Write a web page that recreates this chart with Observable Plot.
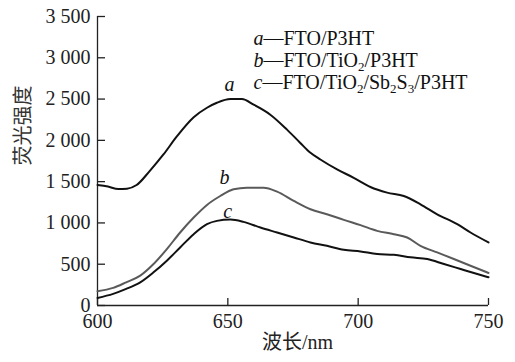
<!DOCTYPE html>
<html><head><meta charset="utf-8">
<script src="https://cdn.jsdelivr.net/npm/d3@7"></script>
<script src="https://cdn.jsdelivr.net/npm/@observablehq/plot@0.6"></script>
<style>
body{margin:0;background:#fff}
#chart svg, #chart svg text, #chart svg tspan {font-family: "Liberation Serif", "Times New Roman", Times, "DejaVu Serif", "Noto Sans CJK SC", serif !important;}
</style>
</head><body><div id="chart"></div>
<script>
// Series a — FTO/P3HT
const wavelengthA = [600, 604, 608, 611.3, 615, 620, 625.3, 630.5, 636.9, 642, 645.8, 651, 655.4, 659.9, 666.3, 672.7, 677.8, 681.7, 685.5, 691.9, 698.3, 704.7, 711.1, 717.5, 723.9, 730.3, 738, 743.1, 750];
const intensityA  = [1459, 1440, 1410, 1415, 1459, 1628, 1829, 2050, 2280, 2395, 2455, 2500, 2500, 2432, 2311, 2130, 1969, 1849, 1768, 1648, 1547, 1435, 1367, 1326, 1226, 1105, 985, 884, 764];
// Series b — FTO/TiO2/P3HT
const wavelengthB = [600, 606, 611, 616.4, 621.5, 626.6, 631.7, 636.9, 642, 647.1, 652.2, 657.3, 663.7, 668.9, 675.3, 681.7, 688, 694.5, 700.9, 707.3, 713.7, 718.8, 723.9, 730.3, 736.7, 743.1, 750];
const intensityB  = [173, 213, 281, 362, 502, 683, 884, 1065, 1218, 1326, 1407, 1427, 1427, 1379, 1266, 1166, 1105, 1037, 973, 904, 864, 824, 723, 643, 563, 482, 394];
// Series c — FTO/TiO2/Sb2S3/P3HT
const wavelengthC = [600, 606, 611, 616.4, 621.5, 626.6, 631.7, 636.9, 642, 645.8, 651, 656, 662.5, 668.9, 675.3, 681.7, 688, 694.5, 700.9, 707.3, 713.7, 720.1, 726.5, 732.9, 739.3, 745.7, 750];
const intensityC  = [92, 141, 201, 281, 402, 543, 703, 864, 985, 1025, 1041, 1013, 944, 884, 824, 764, 723, 675, 655, 623, 615, 583, 563, 502, 442, 382, 342];

const seriesKeys = ["a", "b", "c"];
const seriesNames = ["FTO/P3HT", "FTO/TiO_2/P3HT", "FTO/TiO_2/Sb_2S_3/P3HT"];
const seriesColors = ["#111111", "#5a5a5a", "#111111"];
const curveLabelX = [650.6, 648.7, 649.9];
const curveLabelY = [2670, 1550, 1140];

const xTicks = [600, 650, 700, 750];
const yTicks = [0, 500, 1000, 1500, 2000, 2500, 3000, 3500];
const xTitle = "波长/nm";
const yTitle = "荧光强度";

const rows = [];
[[wavelengthA, intensityA], [wavelengthB, intensityB], [wavelengthC, intensityC]].forEach(([xs, ys], i) => {
  xs.forEach((x, j) => rows.push({series: seriesKeys[i], x, y: ys[j]}));
});
const labels = seriesKeys.map((k, i) => ({k, x: curveLabelX[i], y: curveLabelY[i]}));
const legend = seriesKeys.map((k, i) => ({k, name: seriesNames[i], i}));

const W = 515, H = 362, mL = 97, mR = 27, mT = 16, mB = 57;
const fw = W - mL - mR, fh = H - mT - mB;
const axisColor = "#222";
const fmt = d => d3.format(",")(d).replace(",", " ");
const legendRowDy = [14.5, 36, 58];

const legendMarks = legend.map((d, i) =>
  Plot.text([d], {frameAnchor: "top-left", textAnchor: "start", dx: 156, dy: legendRowDy[i], text: e => "§" + e.k + "|" + e.name, fontSize: 20, fill: "#111"})
);

const chart = Plot.plot({
  width: W, height: H,
  marginLeft: mL, marginRight: mR, marginTop: mT, marginBottom: mB,
  style: {fontSize: "20px", color: axisColor, background: "#fff"},
  x: {domain: [600, 750]},
  y: {domain: [0, 3500]},
  color: {domain: seriesKeys, range: seriesColors},
  marks: [
    Plot.ruleX([600], {stroke: axisColor, strokeWidth: 1.3}),
    Plot.ruleY([0], {stroke: axisColor, strokeWidth: 1.3}),
    Plot.tickY(yTicks, {y: d => d, insetRight: fw - 8, stroke: axisColor, strokeWidth: 1.3}),
    Plot.tickX(xTicks, {x: d => d, insetTop: fh - 7, stroke: axisColor, strokeWidth: 1.3}),
    Plot.axisY({ticks: yTicks, tickSize: 0, tickPadding: 7, tickFormat: fmt, label: null, fontSize: 20}),
    Plot.axisX({ticks: xTicks, tickSize: 0, tickPadding: 8, tickFormat: d => String(d), label: null, fontSize: 20}),
    Plot.line(rows, {x: "x", y: "y", z: "series", stroke: "series", strokeWidth: 2, curve: "monotone-x"}),
    Plot.text(labels, {x: "x", y: "y", text: "k", fontStyle: "italic", fontSize: 20, fill: "#111"}),
    ...legendMarks,
    Plot.text([yTitle], {frameAnchor: "left", dx: -74, dy: 4.5, rotate: -90, text: d => d, fontSize: 20, fill: "#333"}),
    Plot.text([xTitle], {frameAnchor: "bottom", dx: 4.5, dy: 43, text: d => d, fontSize: 20, fill: "#222"})
  ]
});

// build italic key + subscripts for legend rows
const ns = "http://www.w3.org/2000/svg";
chart.querySelectorAll("text").forEach(t => {
  const s = t.textContent;
  if (!s.startsWith("§")) return;
  const [k, name] = s.slice(1).split("|");
  t.textContent = "";
  const add = (str, attrs = {}) => { const sp = document.createElementNS(ns, "tspan"); sp.textContent = str; for (const a in attrs) sp.setAttribute(a, attrs[a]); t.appendChild(sp); };
  add(k, {"font-style": "italic"});
  add("\u2014");
  name.split(/(_\d)/).forEach(part => {
    if (!part) return;
    if (part[0] === "_") add(part[1], {"font-size": "13", "baseline-shift": "-4"});
    else add(part);
  });
});

document.getElementById("chart").appendChild(chart);
</script>
</body></html>
